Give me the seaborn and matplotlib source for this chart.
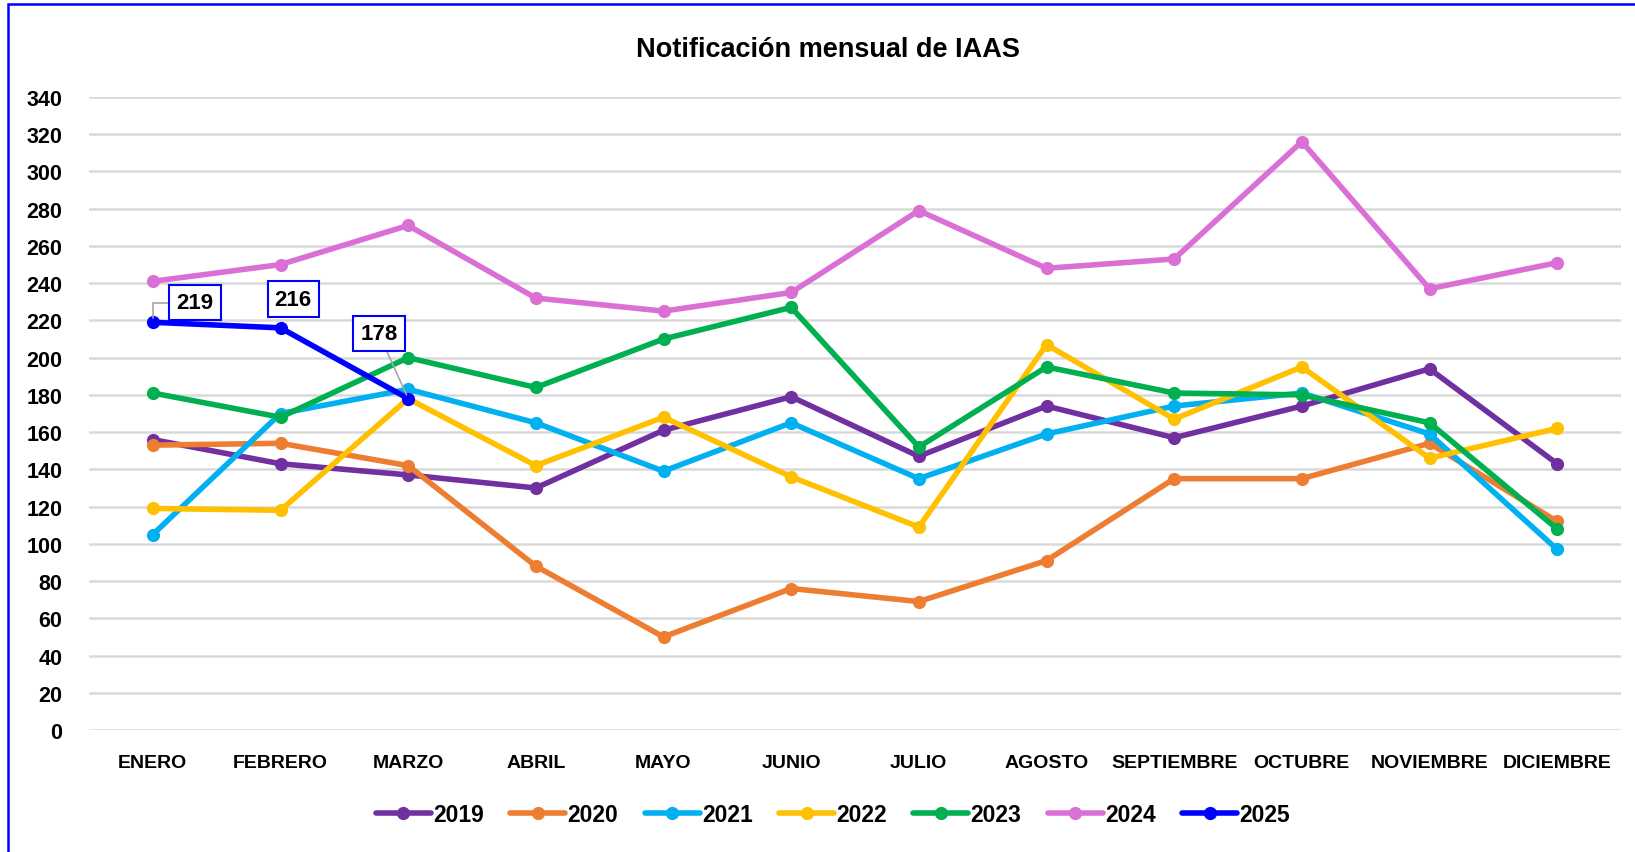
import pandas as pd
import seaborn as sns
import matplotlib.pyplot as plt
from matplotlib.patches import Rectangle

# datos
meses = ["ENERO", "FEBRERO", "MARZO", "ABRIL", "MAYO", "JUNIO", "JULIO",
         "AGOSTO", "SEPTIEMBRE", "OCTUBRE", "NOVIEMBRE", "DICIEMBRE"]
v2019 = [156, 143, 137, 130, 161, 179, 147, 174, 157, 174, 194, 143]
v2020 = [153, 154, 142, 88, 50, 76, 69, 91, 135, 135, 154, 112]
v2021 = [105, 170, 183, 165, 139, 165, 135, 159, 174, 181, 159, 97]
v2022 = [119, 118, 178, 142, 168, 136, 109, 207, 167, 195, 146, 162]
v2023 = [181, 168, 200, 184, 210, 227, 152, 195, 181, 180, 165, 108]
v2024 = [241, 250, 271, 232, 225, 235, 279, 248, 253, 316, 237, 251]
v2025 = [219, 216, 178]

anios = ["2019", "2020", "2021", "2022", "2023", "2024", "2025"]
colores = ["#7030A0", "#ED7D31", "#00B0F0", "#FFC000", "#00B050", "#DA70D6", "#0000FF"]

series = [v2019, v2020, v2021, v2022, v2023, v2024, v2025]
filas = []
for anio, vals in zip(anios, series):
    for mes, v in zip(meses, vals):
        filas.append({"mes": mes, "valor": v, "anio": anio})
df = pd.DataFrame(filas)

sns.set_style("white")
plt.rcParams['font.family'] = ['Liberation Sans', 'DejaVu Sans']
plt.rcParams['font.weight'] = 'bold'
plt.rcParams['text.color'] = 'black'
plt.rcParams['xtick.color'] = 'black'
plt.rcParams['ytick.color'] = 'black'

fig = plt.figure(figsize=(16.35, 8.53), dpi=100)
ax = fig.add_axes([89 / 1635, 1 - 731 / 853, (1621 - 89) / 1635, (731 - 98) / 853])

sns.lineplot(data=df, x="mes", y="valor", hue="anio", palette=dict(zip(anios, colores)),
             marker="o", markersize=9.5, markeredgewidth=0, linewidth=4, sort=False, ax=ax)

ax.set_xlim(-0.5, 11.5)
ax.set_ylim(0, 340)
ax.set_yticks(range(0, 341, 20))
ax.set_xticks(range(12))
ax.set_xticklabels(meses)
ax.yaxis.grid(True, color="#D9D9D9", linewidth=1.8)
ax.set_axisbelow(True)
for s in ax.spines.values():
    s.set_visible(False)
ax.tick_params(axis="both", length=0)
ax.tick_params(axis="x", pad=17, labelsize=14)
ax.tick_params(axis="y", pad=19, labelsize=15.5)
ax.set_xlabel("")
ax.set_ylabel("")

# etiquetas 2025
caja = dict(boxstyle="square,pad=0.32", fc="white", ec="#0000FF", lw=1.5)
ax.annotate(str(v2025[0]), xy=(0, v2025[0]), xytext=(0.33, 229.5), ha="center", va="center",
            fontsize=16, fontweight="bold", bbox=caja,
            arrowprops=dict(arrowstyle="-", color="#A6A6A6", lw=1.2,
                            connectionstyle="angle,angleA=0,angleB=90,rad=0", shrinkA=0, shrinkB=3))
ax.annotate(str(v2025[1]), xy=(1, v2025[1]), xytext=(1.10, 231.5), ha="center", va="center",
            fontsize=16, fontweight="bold", bbox=caja)
ax.annotate(str(v2025[2]), xy=(2, v2025[2]), xytext=(1.77, 213), ha="center", va="center",
            fontsize=16, fontweight="bold", bbox=caja,
            arrowprops=dict(arrowstyle="-", color="#A6A6A6", lw=1.2, shrinkA=0, shrinkB=3))

fig.text(828 / 1635, 1 - 50 / 853, "Notificación mensual de IAAS", ha="center", va="center",
         fontsize=19.5, fontweight="bold")

handles, labels = ax.get_legend_handles_labels()
ax.get_legend().remove()
leg = fig.legend(handles, labels, loc="center", bbox_to_anchor=(833 / 1635, 1 - 816 / 853),
                 ncol=7, frameon=False, fontsize=16.5, handlelength=2.4, columnspacing=1.15,
                 handletextpad=0.1)

fig.add_artist(Rectangle((8 / 1635, -0.1), 1.2, 1.1 - 5 / 853, transform=fig.transFigure,
                         fill=False, ec="#0000FF", lw=1.8))

fig.savefig("out.png", dpi=100)
